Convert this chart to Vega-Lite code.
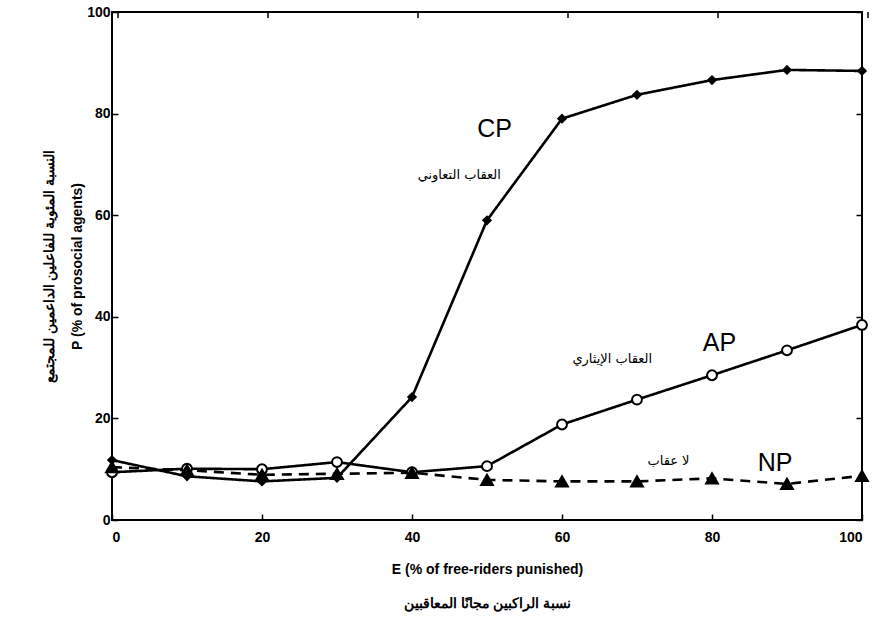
{
  "$schema": "https://vega.github.io/schema/vega-lite/v6.json",
  "width": 750,
  "height": 508,
  "autosize": {"type": "none"},
  "padding": {"left": 112, "top": 12, "right": 14, "bottom": 104},
  "background": "white",
  "datasets": {
    "series": [
      {"series": "CP", "E": 0, "P": 11.8},
      {"series": "CP", "E": 10, "P": 8.6},
      {"series": "CP", "E": 20, "P": 7.6},
      {"series": "CP", "E": 30, "P": 8.3},
      {"series": "CP", "E": 40, "P": 24.2},
      {"series": "CP", "E": 50, "P": 59},
      {"series": "CP", "E": 60, "P": 79},
      {"series": "CP", "E": 70, "P": 83.7},
      {"series": "CP", "E": 80, "P": 86.6},
      {"series": "CP", "E": 90, "P": 88.6},
      {"series": "CP", "E": 100, "P": 88.4},
      {"series": "AP", "E": 0, "P": 9.4},
      {"series": "AP", "E": 10, "P": 10.1},
      {"series": "AP", "E": 20, "P": 10},
      {"series": "AP", "E": 30, "P": 11.4},
      {"series": "AP", "E": 40, "P": 9.4},
      {"series": "AP", "E": 50, "P": 10.6},
      {"series": "AP", "E": 60, "P": 18.8},
      {"series": "AP", "E": 70, "P": 23.7},
      {"series": "AP", "E": 80, "P": 28.5},
      {"series": "AP", "E": 90, "P": 33.4},
      {"series": "AP", "E": 100, "P": 38.4},
      {"series": "NP", "E": 0, "P": 10.4},
      {"series": "NP", "E": 10, "P": 9.8},
      {"series": "NP", "E": 20, "P": 8.9},
      {"series": "NP", "E": 30, "P": 9.1},
      {"series": "NP", "E": 40, "P": 9.3},
      {"series": "NP", "E": 50, "P": 7.9},
      {"series": "NP", "E": 60, "P": 7.6},
      {"series": "NP", "E": 70, "P": 7.6},
      {"series": "NP", "E": 80, "P": 8.2},
      {"series": "NP", "E": 90, "P": 7.1},
      {"series": "NP", "E": 100, "P": 8.7}
    ],
    "labels_en": [
      {"text": "CP", "E": 51, "P": 77},
      {"text": "AP", "E": 81, "P": 34.8},
      {"text": "NP", "E": 88.4, "P": 11.3}
    ],
    "labels_ar": [
      {"text": "العقاب التعاوني", "E": 46.3, "P": 68},
      {"text": "العقاب الإيثاري", "E": 66.7, "P": 31.6},
      {"text": "لا عقاب", "E": 74.2, "P": 11.6}
    ]
  },
  "resolve": {"axis": {"x": "independent", "y": "independent"}},
  "layer": [
    {
      "data": {"name": "series"},
      "mark": {"type": "line", "color": "black", "strokeWidth": 2.6},
      "encoding": {
        "x": {
          "field": "E", "type": "quantitative",
          "scale": {"domain": [0, 100], "nice": false},
          "axis": {
            "orient": "bottom",
            "values": [0, 20, 40, 60, 80, 100],
            "labelPadding": 16,
            "title": ["E (% of free-riders punished)", "نسبة الراكبين مجانًا المعاقبين"],
            "titlePadding": 18,
            "titleLineHeight": 34
          }
        },
        "y": {
          "field": "P", "type": "quantitative",
          "scale": {"domain": [0, 100], "nice": false},
          "axis": {
            "orient": "left",
            "values": [0, 20, 40, 60, 80, 100],
            "title": ["النسبة المئوية للفاعلين الداعمين للمجتمع", "P (% of prosocial agents)"],
            "titlePadding": 2,
            "titleLineHeight": 28
          }
        },
        "detail": {"field": "series"},
        "strokeDash": {
          "field": "series", "type": "nominal",
          "scale": {"domain": ["CP", "AP", "NP"], "range": [[1, 0], [1, 0], [10, 7]]},
          "legend": null
        }
      }
    },
    {
      "data": {"name": "series"},
      "mark": {"type": "point", "filled": false, "stroke": "black", "strokeWidth": 2, "opacity": 1},
      "encoding": {
        "x": {"field": "E", "type": "quantitative", "axis": {"orient": "top", "values": [0, 20, 40, 60, 80, 100], "labels": false, "title": null, "tickSize": 6, "tickOffset": 0, "translate": 6}},
        "y": {"field": "P", "type": "quantitative", "axis": {"orient": "right", "values": [0, 20, 40, 60, 80, 100], "labels": false, "title": null}},
        "shape": {
          "field": "series", "type": "nominal",
          "scale": {"domain": ["CP", "AP", "NP"], "range": ["diamond", "circle", "triangle-up"]},
          "legend": null
        },
        "fill": {
          "field": "series", "type": "nominal",
          "scale": {"domain": ["CP", "AP", "NP"], "range": ["black", "white", "black"]},
          "legend": null
        },
        "size": {
          "field": "series", "type": "nominal",
          "scale": {"domain": ["CP", "AP", "NP"], "range": [55, 140, 55]},
          "legend": null
        }
      }
    },
    {
      "data": {"name": "labels_en"},
      "mark": {"type": "text", "color": "black", "align": "center", "baseline": "middle", "font": "Liberation Sans", "fontSize": 25},
      "encoding": {
        "x": {"field": "E", "type": "quantitative", "axis": null},
        "y": {"field": "P", "type": "quantitative", "axis": null},
        "text": {"field": "text"}
      }
    },
    {
      "data": {"name": "labels_ar"},
      "mark": {"type": "text", "color": "black", "align": "center", "baseline": "middle", "font": "DejaVu Sans", "fontSize": 13},
      "encoding": {
        "x": {"field": "E", "type": "quantitative", "axis": null},
        "y": {"field": "P", "type": "quantitative", "axis": null},
        "text": {"field": "text"}
      }
    }
  ],
  "config": {
    "view": {"stroke": "black", "strokeWidth": 2},
    "axis": {
      "grid": false,
      "domain": false,
      "tickColor": "black",
      "tickWidth": 1.5,
      "tickSize": -6,
      "labelFont": "Liberation Sans",
      "labelFontWeight": "bold",
      "labelFontSize": 14,
      "labelColor": "black",
      "labelPadding": 8,
      "titleFont": "Liberation Sans",
      "titleFontWeight": "bold",
      "titleFontSize": 14,
      "titleColor": "black"
    }
  }
}
